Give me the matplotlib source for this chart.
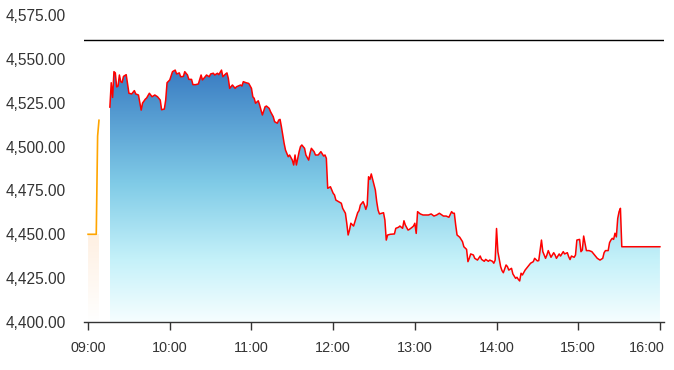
import numpy as np
import matplotlib
matplotlib.use("Agg")
import matplotlib.pyplot as plt
import matplotlib.transforms as mtransforms
from matplotlib.colors import LinearSegmentedColormap

# ---- data (minutes after 09:00, index level) ----
pre_minutes = [0, 6, 7, 8]
pre_values = [4450.0, 4450.0, 4506.0, 4515.0]

minutes = [16, 17, 18, 19, 20, 21, 22, 23, 24, 25, 26, 28, 29, 30, 32, 34, 35, 37, 39, 40,
           42, 43, 45, 47, 49, 51, 53, 54, 56, 57, 58, 60, 62, 64, 65, 67, 68, 70, 71, 73,
           74, 76, 77, 79, 81, 83, 84, 86, 87, 89, 90, 92, 93, 95, 96, 98, 99, 101, 102, 103,
           104, 106, 108, 109, 112, 113, 114, 116, 118, 120, 121, 122, 123, 125, 126, 127, 128, 130, 131, 133,
           134, 136, 137, 139, 140, 141, 142, 144, 145, 147, 148, 150, 151, 152, 153, 155, 156, 157, 159, 160,
           162, 163, 164, 166, 167, 169, 171, 173, 174, 175, 176, 178, 179, 180, 181, 182, 184, 186, 187, 189,
           190, 191, 192, 193, 195, 196, 198, 199, 200, 202, 203, 204, 205, 206, 207, 208, 209, 211, 212, 213,
           214, 217, 218, 219, 220, 222, 225, 226, 228, 229, 231, 232, 233, 235, 236, 238, 239, 240, 241, 242,
           244, 246, 248, 250, 252, 254, 256, 258, 261, 263, 265, 267, 268, 269, 270, 271, 273, 275, 276, 278,
           279, 280, 281, 283, 284, 286, 288, 289, 291, 292, 294, 295, 297, 298, 299, 300, 301, 303, 304, 305,
           307, 308, 309, 311, 312, 314, 315, 316, 317, 318, 319, 321, 322, 324, 325, 327, 328, 330, 331, 333,
           334, 336, 337, 338, 340, 342, 343, 344, 346, 347, 349, 350, 352, 353, 354, 355, 357, 358, 359, 361,
           362, 363, 364, 366, 368, 370, 372, 374, 376, 378, 379, 380, 382, 383, 384, 385, 386, 387, 388, 389,
           390, 391, 392, 420]
values = [4522.5, 4536.4, 4528.0, 4542.7, 4542.0, 4534.0, 4534.5, 4540.8, 4537.0, 4536.5, 4540.0, 4541.0, 4535.7, 4530.4, 4530.0, 4531.9, 4530.0, 4529.4, 4520.8, 4524.8,
          4527.0, 4527.7, 4530.4, 4528.4, 4529.4, 4528.4, 4526.5, 4521.0, 4521.4, 4526.5, 4536.4, 4538.0, 4542.7, 4543.6, 4541.4, 4542.0, 4539.8, 4540.0, 4542.7, 4540.8,
          4538.3, 4538.3, 4535.3, 4535.3, 4535.7, 4540.8, 4538.0, 4539.8, 4540.8, 4539.8, 4541.4, 4541.8, 4540.8, 4541.8, 4541.0, 4543.6, 4539.8, 4541.4, 4542.0, 4538.9,
          4533.2, 4535.1, 4533.2, 4534.1, 4535.1, 4534.5, 4537.0, 4536.4, 4536.0, 4533.2, 4528.4, 4527.5, 4524.7, 4526.1, 4523.7, 4520.8, 4518.0, 4522.7, 4523.1, 4521.8,
          4519.9, 4517.0, 4514.2, 4513.3, 4515.1, 4515.5, 4511.3, 4501.8, 4498.0, 4494.2, 4495.2, 4492.3, 4489.5, 4495.2, 4489.5, 4497.1, 4500.0, 4500.9, 4499.0, 4495.2,
          4492.3, 4496.2, 4499.0, 4497.1, 4495.2, 4495.2, 4497.1, 4494.6, 4495.2, 4493.3, 4476.2, 4477.1, 4475.2, 4473.4, 4472.4, 4469.5, 4468.6, 4467.7, 4464.8, 4462.0,
          4456.3, 4449.6, 4452.4, 4456.3, 4454.7, 4457.2, 4462.3, 4463.5, 4466.7, 4468.6, 4466.7, 4464.2, 4466.7, 4482.8, 4481.3, 4484.4, 4481.3, 4475.2, 4468.6, 4463.8,
          4461.6, 4462.3, 4458.1, 4446.7, 4449.6, 4450.0, 4450.2, 4453.4, 4454.0, 4454.7, 4453.4, 4457.7, 4455.3, 4452.4, 4452.8, 4454.0, 4454.7, 4456.3, 4450.5, 4462.9,
          4461.6, 4461.0, 4461.0, 4461.0, 4461.6, 4460.4, 4461.0, 4462.0, 4460.4, 4460.4, 4459.7, 4462.9, 4462.0, 4462.0, 4455.3, 4449.6, 4448.3, 4445.8, 4442.9, 4441.4,
          4434.4, 4436.3, 4438.8, 4438.2, 4436.3, 4435.3, 4437.6, 4435.7, 4434.6, 4435.7, 4434.6, 4435.3, 4434.6, 4433.5, 4435.3, 4453.3, 4440.0, 4431.6, 4429.3, 4428.1,
          4432.5, 4431.6, 4429.6, 4430.6, 4427.4, 4424.9, 4425.5, 4424.3, 4423.4, 4427.8, 4426.8, 4429.6, 4430.6, 4432.5, 4433.5, 4434.4, 4436.3, 4434.8, 4435.0, 4446.7,
          4440.1, 4436.3, 4438.2, 4440.7, 4436.9, 4439.5, 4438.2, 4436.3, 4438.8, 4437.6, 4440.1, 4438.8, 4439.5, 4437.2, 4435.6, 4437.6, 4436.9, 4438.2, 4446.7, 4447.1,
          4440.1, 4441.0, 4449.0, 4440.7, 4440.7, 4440.1, 4438.2, 4436.3, 4435.3, 4436.3, 4439.5, 4440.7, 4440.7, 4445.2, 4446.7, 4447.7, 4447.1, 4450.6, 4448.5, 4459.0,
          4462.9, 4464.8, 4442.9, 4442.9]

prev_close = 4561.0
tick_minutes = [0, 60, 120, 180, 240, 300, 360, 420]
tick_labels = ["09:00", "10:00", "11:00", "12:00", "13:00", "14:00", "15:00", "16:00"]
y_ticks = [4400, 4425, 4450, 4475, 4500, 4525, 4550, 4575]

# ---- figure ----
plt.rcParams['font.family'] = ['Liberation Sans', 'DejaVu Sans']
fig = plt.figure(figsize=(6.74, 3.70), dpi=100)
ax = fig.add_axes([84 / 674, 1 - 322 / 370, 580 / 674, 307 / 370])
xmin, xmax = -3, 423
ymin, ymax = 4400, 4575
ax.set_xlim(xmin, xmax)
ax.set_ylim(ymin, ymax)

# blue gradient fill under main line
blue_cmap = LinearSegmentedColormap.from_list(
    "bl", [(0.0, "#f6feff"), (0.25, "#c4f1f9"), (0.55, "#80cbe7"), (1.0, "#3a7dc3")])
top_v = max(values)
grad = np.linspace(0, 1, 256).reshape(-1, 1)
poly = ax.fill_between(minutes, values, ymin, facecolor="none", edgecolor="none")
im = ax.imshow(grad, aspect="auto", cmap=blue_cmap, origin="lower",
               extent=[minutes[0], minutes[-1], ymin, top_v], zorder=1)
im.set_clip_path(poly.get_paths()[0], transform=ax.transData)

# orange gradient fill under pre-market line
or_cmap = LinearSegmentedColormap.from_list("or", [(0.0, "#ffffff"), (1.0, "#fef0e2")])
poly2 = ax.fill_between(pre_minutes, pre_values, ymin, facecolor="none", edgecolor="none")
im2 = ax.imshow(grad, aspect="auto", cmap=or_cmap, origin="lower",
                extent=[pre_minutes[0], pre_minutes[-1], ymin, 4450], zorder=1)
im2.set_clip_path(poly2.get_paths()[0], transform=ax.transData)

ax.plot(pre_minutes, pre_values, color="#ffa500", lw=1.2, zorder=3)
ax.plot(minutes, values, color="#ff0000", lw=1.1, zorder=3)
ax.axhline(prev_close, color="black", lw=1.0, zorder=2)

ax.set_xlim(xmin, xmax)
ax.set_ylim(ymin, ymax)

for s in ["top", "right", "left"]:
    ax.spines[s].set_visible(False)
ax.spines["bottom"].set_color("#333333")
ax.spines["bottom"].set_linewidth(1.0)

ax.set_xticks(tick_minutes)
ax.set_xticklabels(tick_labels)
ax.set_yticks(y_ticks)
ax.set_yticklabels([f"{v:,.2f}" for v in y_ticks])
ax.tick_params(axis="x", length=6, width=1, color="#333333", pad=8, labelsize=10.4, labelcolor="#333333")
ax.tick_params(axis="y", length=0, pad=13, labelsize=11.2, labelcolor="#333333")

# keep the last x label inside the canvas
last = ax.get_xticklabels()[-1]
last.set_transform(last.get_transform() + mtransforms.ScaledTranslation(-13 / 100, 0, fig.dpi_scale_trans))

fig.savefig("out.png", dpi=100)
